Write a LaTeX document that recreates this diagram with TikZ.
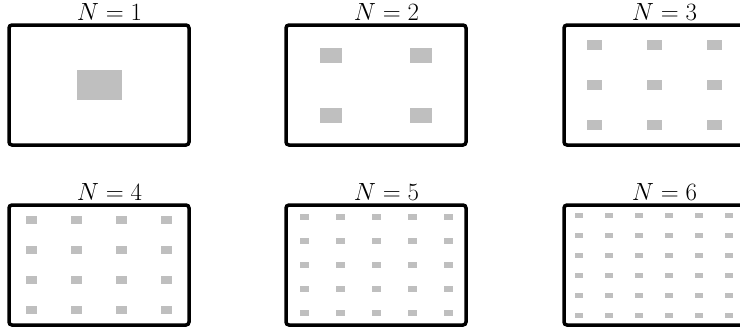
\documentclass[tikz,border=0pt]{standalone}
\begin{document}
\begin{tikzpicture}[x=1pt,y=-1pt,
  panel/.style={draw=black, line width=3.5pt, rounded corners=3pt,
    minimum width=180pt, minimum height=120pt, inner sep=0pt, outer sep=0pt},
  cell/.style={fill=lightgray},
  title/.style={font=\fontsize{29.2}{35}\selectfont, anchor=base, inner sep=0pt}]
\useasboundingbox (0,0) rectangle (740,333);
% one panel per grid size N: an N x N array of cells inside a frame
\foreach \n/\cx/\cy in {1/99/85, 2/376/85, 3/654/85, 4/99/265, 5/376/265, 6/654/265}{
  \pgfmathsetmacro{\w}{180/\n}
  \pgfmathsetmacro{\h}{120/\n}
  \foreach \i in {1,...,\n}{
    \foreach \j in {1,...,\n}{
      \pgfmathsetmacro{\xc}{\cx-90+(\i-0.5)*\w}
      \pgfmathsetmacro{\yc}{\cy-60+(\j-0.5)*\h}
      \fill[cell] (\xc-\w/8,\yc-\h/8) rectangle (\xc+\w/8,\yc+\h/8);
    }
  }
  \node[panel] (box\n) at (\cx,\cy) {};
  \node[title] (lab\n) at (\cx+10.5,\cy-64.5) {$N=\n$};
}
\end{tikzpicture}
\end{document}
